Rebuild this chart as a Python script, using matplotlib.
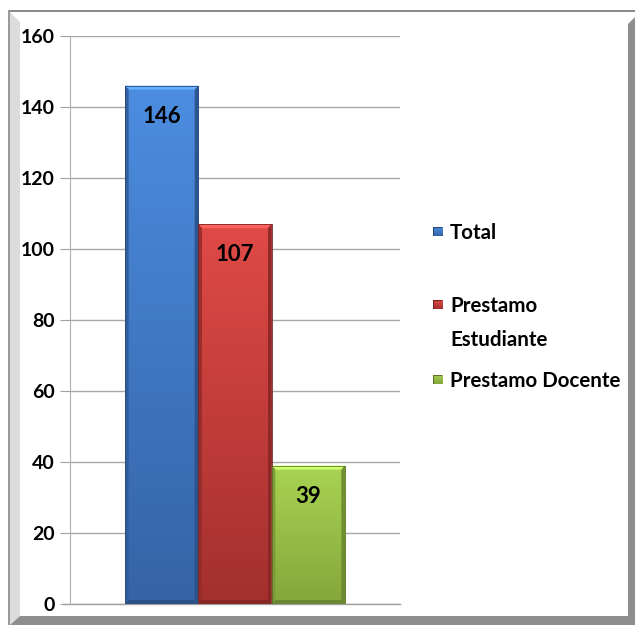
import numpy as np
import matplotlib
matplotlib.use("Agg")
import matplotlib.pyplot as plt
from matplotlib.patches import Rectangle, Polygon
from matplotlib.colors import to_rgb

# ---- data ----
series = ["Total", "Prestamo\nEstudiante", "Prestamo Docente"]
values = [146, 107, 39]
yticks = [0, 20, 40, 60, 80, 100, 120, 140, 160]

# ---- style ----
top_colors = ["#4c8de0", "#e04a46", "#a9d453"]
bot_colors = ["#3563a6", "#a3302e", "#84a63b"]
FONT = "Lato"

W, H = 635, 625
fig = plt.figure(figsize=(W / 100, H / 100), dpi=100)
fig.patch.set_facecolor("white")

def px(x0, y0, w, h):
    return [x0 / W, 1 - (y0 + h) / H, w / W, h / H]

# frame decorations in figure pixel coords (top-left origin)
def fig_poly(pts, color, z=0):
    p = Polygon([(x / W, 1 - y / H) for x, y in pts], closed=True,
                transform=fig.transFigure, facecolor=color, edgecolor="none", zorder=z)
    fig.patches.append(p)

fig_poly([(8, 10), (635, 10), (635, 12), (8, 12)], "#8a8a8a")
fig_poly([(8, 10), (10, 10), (10, 625), (8, 625)], "#9a9a9a")
fig_poly([(10, 12), (20, 22), (20, 616), (10, 625)], "#dcdcdc")
fig_poly([(628, 24), (635, 17), (635, 625), (628, 625)], "#8e8e8e")
fig_poly([(10, 625), (20, 616), (635, 616), (635, 625)], "#8e8e8e")

ax = fig.add_axes(px(70, 36, 330, 568))
ax.set_facecolor("none")
ax.set_xlim(-0.5, 0.5)
ax.set_ylim(0, 160)
ax.set_yticks(yticks)
ax.set_yticklabels([str(t) for t in yticks], fontsize=14, fontweight="bold",
                   family=FONT)
ax.set_xticks([])
for s in ["top", "right", "bottom"]:
    ax.spines[s].set_visible(False)
ax.spines["left"].set_color("#b0b0b0")
ax.tick_params(axis="y", length=7, color="#a0a0a0", pad=4)
ax.yaxis.grid(True, color="#a8a8a8", lw=1)
ax.set_axisbelow(True)
ax.axhline(0, color="#a0a0a0", lw=1, xmin=-0.022, clip_on=False, zorder=1)

bw = 2 / 9
n = len(values)
offsets = [(i - (n - 1) / 2) * bw for i in range(n)]
bx = bw * 0.05  # bevel width (data units x)
by = 160 * 4 / 568  # bevel height (data units y)

for i, (v, off) in enumerate(zip(values, offsets)):
    x0, x1 = off - bw / 2, off + bw / 2
    rect = ax.bar(off, v, width=bw, color=bot_colors[i], zorder=2,
                  edgecolor="none")[0]
    c1 = np.array(to_rgb(top_colors[i]))
    c2 = np.array(to_rgb(bot_colors[i]))
    t = np.linspace(0, 1, 200)[:, None]
    grad = (c1 * (1 - t) + c2 * t)[:, None, :]
    im = ax.imshow(grad, extent=(x0, x1, 0, v), aspect="auto", zorder=3,
                   interpolation="bilinear")
    im.set_clip_path(rect)
    # bevels
    light = np.clip(c1 * 1.15 + 0.05, 0, 1)
    dark = c2 * 0.82
    side = c2 * 0.92
    ax.add_patch(Polygon([(x0, v), (x1, v), (x1 - bx, v - by), (x0 + bx, v - by)],
                         facecolor=light, edgecolor="none", zorder=4))
    ax.add_patch(Polygon([(x0, v), (x0 + bx, v - by), (x0 + bx, by), (x0, 0)],
                         facecolor=side, edgecolor="none", zorder=4, alpha=0.9))
    ax.add_patch(Polygon([(x1, v), (x1 - bx, v - by), (x1 - bx, by), (x1, 0)],
                         facecolor=dark, edgecolor="none", zorder=4, alpha=0.9))
    ax.add_patch(Polygon([(x0, 0), (x1, 0), (x1 - bx, by), (x0 + bx, by)],
                         facecolor=dark, edgecolor="none", zorder=4))
    ax.add_patch(Rectangle((x0, 0), bw, v, facecolor="none",
                           edgecolor=c2 * 0.75, lw=0.6, zorder=5))
    ax.annotate(str(v), (off, v), xytext=(0, -14.5), textcoords="offset points",
                ha="center", va="top", fontsize=16, fontweight="bold",
                family=FONT, color="black", zorder=6)

# legend (manual)
leg_y = [232, 305, 380]
for i, lab in enumerate(series):
    y = leg_y[i]
    ax_sq = fig.add_axes(px(433, y - 5, 9, 9))
    ax_sq.set_axis_off()
    c1 = np.array(to_rgb(top_colors[i]))
    c2 = np.array(to_rgb(bot_colors[i]))
    t = np.linspace(0, 1, 20)[:, None]
    ax_sq.imshow((c1 * (1 - t) + c2 * t)[:, None, :], aspect="auto",
                 extent=(0, 1, 0, 1))
    ax_sq.add_patch(Rectangle((0, 0), 1, 1, fill=False, edgecolor=c2 * 0.7, lw=0.8))
    ax_sq.set_xlim(0, 1); ax_sq.set_ylim(0, 1)
    fig.text(450 / W, 1 - (y - 9) / H, lab, ha="left", va="top",
             fontsize=14.8, fontweight="bold", family=FONT, linespacing=1.85)

fig.savefig("out.png", dpi=100, facecolor="white")
